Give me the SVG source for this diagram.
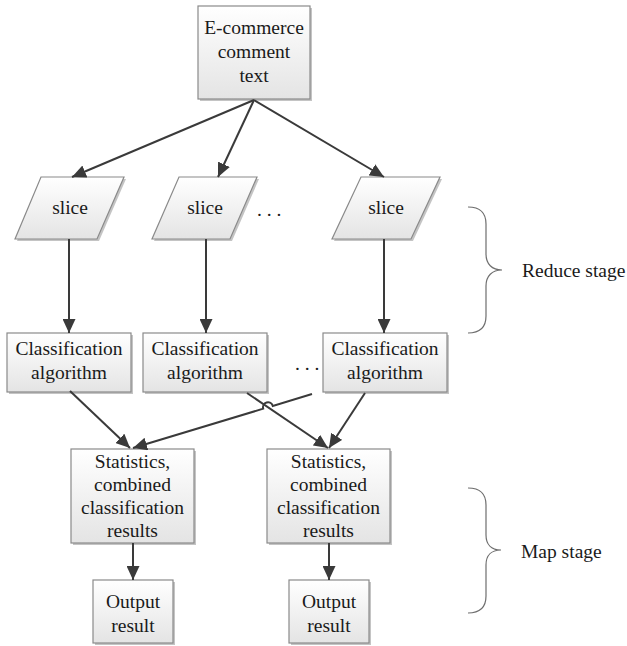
<svg xmlns="http://www.w3.org/2000/svg" width="627" height="646" viewBox="0 0 627 646">
  <defs>
    <linearGradient id="boxFill" x1="0" y1="0" x2="0" y2="1">
      <stop offset="0" stop-color="#ffffff"/>
      <stop offset="1" stop-color="#e4e4e4"/>
    </linearGradient>
    <marker id="arrow" markerUnits="userSpaceOnUse" markerWidth="14" markerHeight="13" refX="14" refY="6.5" orient="auto">
      <path d="M0,0 L14,6.5 L0,13 z" fill="#3a3a3a"/>
    </marker>
    <style>
      .box { fill: url(#boxFill); stroke: #8a8a8a; stroke-width: 1.2; }
      .shadow { fill: #c4c4c4; }
      .label { font-family: "Liberation Serif", "Times New Roman", serif; font-size: 19.5px; fill: #1a1a1a; text-anchor: middle; }
      .side { font-family: "Liberation Serif", "Times New Roman", serif; font-size: 19.5px; fill: #1a1a1a; }
      .edge { fill: none; stroke: #3a3a3a; stroke-width: 2; marker-end: url(#arrow); }
      .brace { fill: none; stroke: #6e6e6e; stroke-width: 1.2; }
    </style>
  </defs>
  <rect width="627" height="646" fill="#ffffff"/>

  <!-- source node -->
  <g id="source">
    <rect class="shadow" x="200" y="8" width="112" height="93"/>
    <rect class="box" x="198" y="6" width="112" height="93"/>
    <text class="label" x="254" y="33.5">E-commerce</text>
    <text class="label" x="254" y="57.5">comment</text>
    <text class="label" x="254" y="81.5">text</text>
  </g>

  <!-- data slices -->
  <g id="slice1">
    <polygon class="shadow" points="43,179 126,179 99,241 17,241"/>
    <polygon class="box" points="41,177 124,177 97,239 15,239"/>
    <text class="label" x="70" y="213.5">slice</text>
  </g>
  <g id="slice2">
    <polygon class="shadow" points="181,179 259,179 232,241 154,241"/>
    <polygon class="box" points="179,177 257,177 230,239 152,239"/>
    <text class="label" x="205" y="213.5">slice</text>
  </g>
  <text class="side" x="257" y="216">. . .</text>
  <g id="slice3">
    <polygon class="shadow" points="363,179 442,179 413,241 334,241"/>
    <polygon class="box" points="361,177 440,177 411,239 332,239"/>
    <text class="label" x="386" y="213.5">slice</text>
  </g>

  <!-- classification workers -->
  <g id="classify1">
    <rect class="shadow" x="9" y="335" width="124" height="59"/>
    <rect class="box" x="7" y="333" width="124" height="59"/>
    <text class="label" x="69" y="355">Classification</text>
    <text class="label" x="69" y="379">algorithm</text>
  </g>
  <g id="classify2">
    <rect class="shadow" x="145" y="335" width="124" height="59"/>
    <rect class="box" x="143" y="333" width="124" height="59"/>
    <text class="label" x="205" y="355">Classification</text>
    <text class="label" x="205" y="379">algorithm</text>
  </g>
  <text class="side" x="295" y="370">. . .</text>
  <g id="classify3">
    <rect class="shadow" x="325" y="335" width="124" height="59"/>
    <rect class="box" x="323" y="333" width="124" height="59"/>
    <text class="label" x="385" y="355">Classification</text>
    <text class="label" x="385" y="379">algorithm</text>
  </g>

  <!-- aggregation -->
  <g id="stats1">
    <rect class="shadow" x="73" y="451" width="123" height="94"/>
    <rect class="box" x="71" y="449" width="123" height="94"/>
    <text class="label" x="132.5" y="468">Statistics,</text>
    <text class="label" x="132.5" y="491">combined</text>
    <text class="label" x="132.5" y="514">classification</text>
    <text class="label" x="132.5" y="537">results</text>
  </g>
  <g id="stats2">
    <rect class="shadow" x="269" y="451" width="123" height="94"/>
    <rect class="box" x="267" y="449" width="123" height="94"/>
    <text class="label" x="328.5" y="468">Statistics,</text>
    <text class="label" x="328.5" y="491">combined</text>
    <text class="label" x="328.5" y="514">classification</text>
    <text class="label" x="328.5" y="537">results</text>
  </g>

  <!-- outputs -->
  <g id="output1">
    <rect class="shadow" x="95" y="582" width="80" height="63"/>
    <rect class="box" x="93" y="580" width="80" height="63"/>
    <text class="label" x="133" y="608">Output</text>
    <text class="label" x="133" y="632">result</text>
  </g>
  <g id="output2">
    <rect class="shadow" x="291" y="582" width="80" height="63"/>
    <rect class="box" x="289" y="580" width="80" height="63"/>
    <text class="label" x="329" y="608">Output</text>
    <text class="label" x="329" y="632">result</text>
  </g>

  <!-- stage annotations -->
  <g id="reduce-stage">
    <path class="brace" d="M468,207 C479,207 486,212 486,224 L486,254 C486,264 492,270 502,270 C492,270 486,276 486,286 L486,316 C486,328 479,333 468,333"/>
    <text class="side" x="522" y="276.5">Reduce stage</text>
  </g>
  <g id="map-stage">
    <path class="brace" d="M468,488 C479,488 486,493 486,505 L486,535 C486,545 492,550 501,550 C492,550 486,555 486,565 L486,596 C486,608 479,613 468,613"/>
    <text class="side" x="521" y="558">Map stage</text>
  </g>

  <!-- connectors -->
  <g id="connectors">
    <path class="edge" d="M254,100 L72,177"/>
    <path class="edge" d="M254,100 L218,177"/>
    <path class="edge" d="M254,100 L384,177"/>
    <path class="edge" d="M69,239 L69,333"/>
    <path class="edge" d="M206,239 L206,333"/>
    <path class="edge" d="M384,239 L384,333"/>
    <path class="edge" d="M70,391 L130,448"/>
    <path class="edge" d="M247,393 L328,448"/>
    <path class="edge" d="M312,394 L272.8,405.9 A5,5 0 0 0 263.2,408.7 L133,448"/>
    <path class="edge" d="M365,393 L329,448"/>
    <path class="edge" d="M133,543 L133,580"/>
    <path class="edge" d="M329,543 L329,580"/>
  </g>
</svg>
